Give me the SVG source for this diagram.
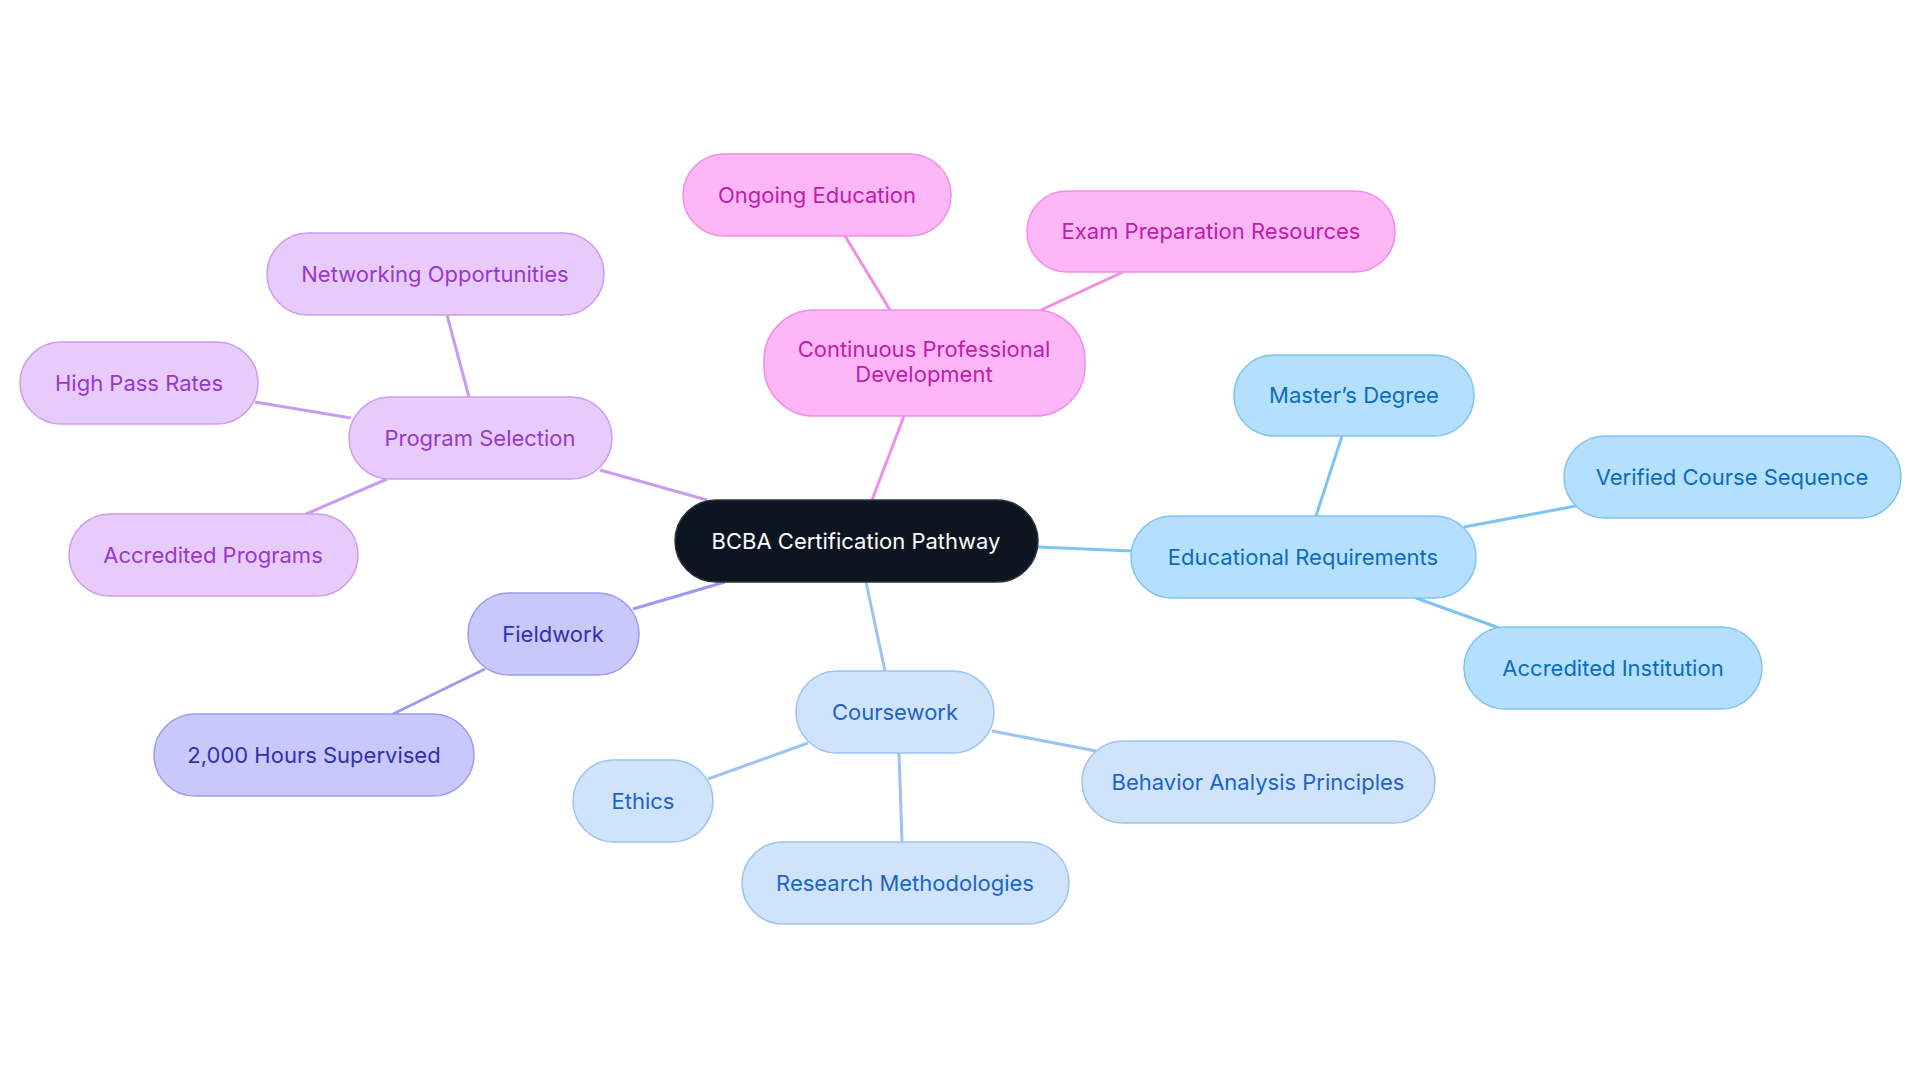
<svg xmlns="http://www.w3.org/2000/svg" width="1920" height="1083" viewBox="0 0 1920 1083">
<style>
text{font-family:Inter,"Open Sans",sans-serif;font-size:22px;text-anchor:middle;dominant-baseline:central}
rect{stroke-width:1.5}
.b rect{fill:#b4e0fd;stroke:#7ec3f2}.b text{fill:#0b6cbf}
.c rect{fill:#cfe3fb;stroke:#9cc3f1}.c text{fill:#1e63c5}
.f rect{fill:#c8c8fb;stroke:#9c9bee}.f text{fill:#3131b0}
.p rect{fill:#e7ccfb;stroke:#cc9bf0}.p text{fill:#9937cf}
.m rect{fill:#fdb7f6;stroke:#f08ee6}.m text{fill:#c11cae}
#conn line{stroke-width:3}
</style>
<rect width="1920" height="1083" fill="#fff"/>
<g id="conn">
<line x1="1038" y1="547" x2="1131" y2="551" stroke="#7ec3f2"/>
<line x1="1316" y1="516" x2="1342" y2="436" stroke="#7ec3f2"/>
<line x1="1464" y1="527" x2="1576" y2="506" stroke="#7ec3f2"/>
<line x1="1416" y1="598" x2="1502" y2="629" stroke="#7ec3f2"/>
<line x1="866" y1="582" x2="885" y2="671" stroke="#9cc3f1"/>
<line x1="992" y1="731" x2="1096" y2="751" stroke="#9cc3f1"/>
<line x1="899" y1="753" x2="902" y2="842" stroke="#9cc3f1"/>
<line x1="808" y1="743" x2="708" y2="779" stroke="#9cc3f1"/>
<line x1="725" y1="582" x2="633" y2="609" stroke="#9c9bee"/>
<line x1="485" y1="669" x2="393" y2="714" stroke="#9c9bee"/>
<line x1="707" y1="500" x2="600" y2="470" stroke="#cc9bf0"/>
<line x1="469" y1="397" x2="447" y2="315" stroke="#cc9bf0"/>
<line x1="351" y1="418" x2="255" y2="402" stroke="#cc9bf0"/>
<line x1="387" y1="479" x2="306" y2="514" stroke="#cc9bf0"/>
<line x1="872" y1="500" x2="904" y2="416" stroke="#f08ee6"/>
<line x1="890" y1="310" x2="845" y2="236" stroke="#f08ee6"/>
<line x1="1041" y1="310" x2="1123" y2="272" stroke="#f08ee6"/>
</g>
<g id="root"><rect x="675" y="500" width="363" height="82" rx="41" fill="#0d1620" stroke="#2a3440"/><text x="856" y="541" fill="#fff">BCBA Certification Pathway</text></g>
<g id="edu" class="b"><rect x="1131" y="516" width="345" height="82" rx="41"/><text x="1303" y="557">Educational Requirements</text></g>
<g id="masters" class="b"><rect x="1234" y="355" width="240" height="81" rx="40"/><text x="1354" y="395">Master’s Degree</text></g>
<g id="verified" class="b"><rect x="1564" y="436" width="337" height="82" rx="41"/><text x="1732" y="477">Verified Course Sequence</text></g>
<g id="accinst" class="b"><rect x="1464" y="627" width="298" height="82" rx="41"/><text x="1613" y="668">Accredited Institution</text></g>
<g id="coursework" class="c"><rect x="796" y="671" width="198" height="82" rx="41"/><text x="895" y="712">Coursework</text></g>
<g id="behavior" class="c"><rect x="1082" y="741" width="353" height="82" rx="41"/><text x="1258" y="782">Behavior Analysis Principles</text></g>
<g id="research" class="c"><rect x="742" y="842" width="327" height="82" rx="41"/><text x="905" y="883">Research Methodologies</text></g>
<g id="ethics" class="c"><rect x="573" y="760" width="140" height="82" rx="41"/><text x="643" y="801">Ethics</text></g>
<g id="fieldwork" class="f"><rect x="468" y="593" width="171" height="82" rx="41"/><text x="553" y="634">Fieldwork</text></g>
<g id="hours" class="f"><rect x="154" y="714" width="320" height="82" rx="41"/><text x="314" y="755">2,000 Hours Supervised</text></g>
<g id="program" class="p"><rect x="349" y="397" width="263" height="82" rx="41"/><text x="480" y="438">Program Selection</text></g>
<g id="networking" class="p"><rect x="267" y="233" width="337" height="82" rx="41"/><text x="435" y="274">Networking Opportunities</text></g>
<g id="highpass" class="p"><rect x="20" y="342" width="238" height="82" rx="41"/><text x="139" y="383">High Pass Rates</text></g>
<g id="accprog" class="p"><rect x="69" y="514" width="289" height="82" rx="41"/><text x="213" y="555">Accredited Programs</text></g>
<g id="cpd" class="m"><rect x="764" y="310" width="321" height="106" rx="50"/><text x="924" y="349">Continuous Professional</text><text x="924" y="374">Development</text></g>
<g id="ongoing" class="m"><rect x="683" y="154" width="268" height="82" rx="41"/><text x="817" y="195">Ongoing Education</text></g>
<g id="exam" class="m"><rect x="1027" y="191" width="368" height="81" rx="40"/><text x="1211" y="231">Exam Preparation Resources</text></g>
</svg>
